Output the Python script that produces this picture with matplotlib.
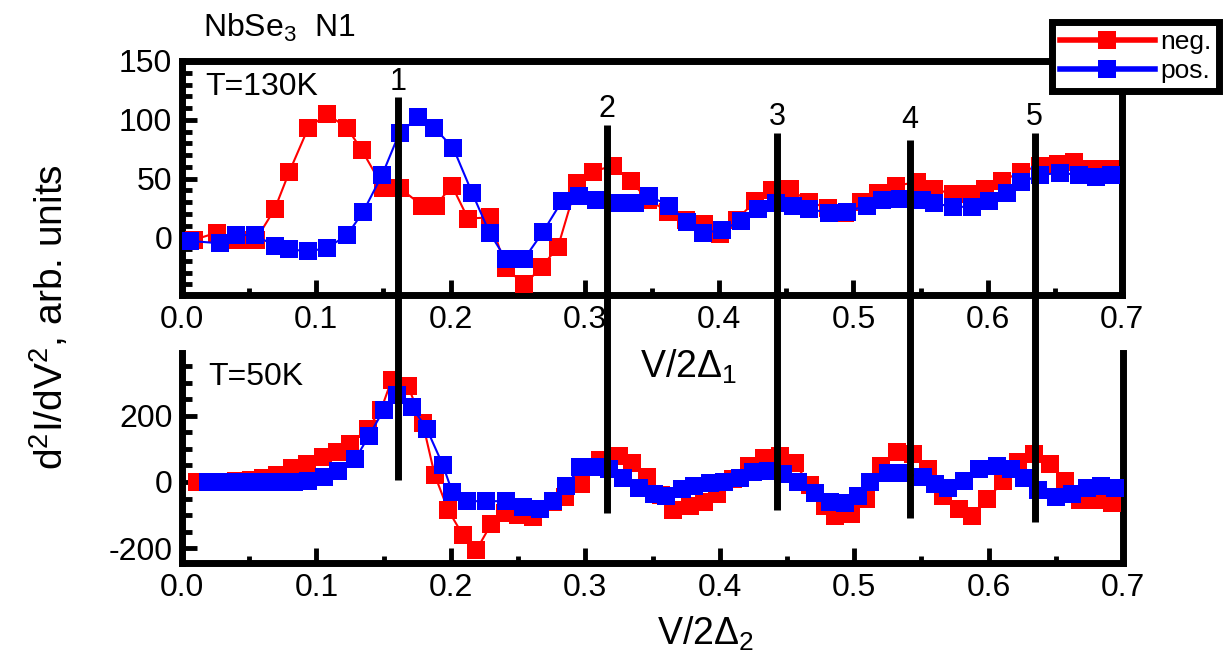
import matplotlib
matplotlib.use('Agg')
import matplotlib.pyplot as plt
from matplotlib.lines import Line2D
from matplotlib.transforms import blended_transform_factory
from matplotlib.ticker import MultipleLocator, FormatStrFormatter

plt.rcParams['font.family'] = ['Liberation Sans', 'DejaVu Sans']
plt.rcParams['mathtext.fontset'] = 'custom'
plt.rcParams['mathtext.rm'] = 'Liberation Sans'
plt.rcParams['mathtext.it'] = 'Liberation Sans'
plt.rcParams['mathtext.default'] = 'regular'
plt.rcParams['axes.unicode_minus'] = False

# ---------------- data ----------------
top_neg_x = [0.009, 0.026, 0.042, 0.055, 0.069, 0.080, 0.094, 0.108, 0.123, 0.134,
             0.150, 0.162, 0.179, 0.189, 0.201, 0.213, 0.229, 0.241, 0.255, 0.268,
             0.280, 0.294, 0.306, 0.321, 0.334, 0.347, 0.362, 0.375, 0.389, 0.401,
             0.413, 0.427, 0.439, 0.453, 0.467, 0.481, 0.494, 0.506, 0.518, 0.532,
             0.547, 0.560, 0.574, 0.587, 0.598, 0.611, 0.625, 0.639, 0.652, 0.664,
             0.678, 0.691]
top_neg_y = [-2, 4, -2, -2, 24, 56, 93, 105, 93, 74,
             42, 42, 27, 27, 44, 16, 17, -26, -40, -25,
             -8, 46, 56, 61, 48, 32, 22, 15, 11, 3,
             15, 31, 40, 41, 30, 25, 21, 30, 38, 44,
             47, 41, 37, 37, 41, 48, 56, 61, 62, 64,
             58, 58]

top_pos_x = [0.006, 0.028, 0.040, 0.054, 0.069, 0.080, 0.094, 0.108, 0.123, 0.135,
             0.149, 0.162, 0.176, 0.188, 0.202, 0.216, 0.229, 0.241, 0.255, 0.269,
             0.283, 0.296, 0.308, 0.324, 0.337, 0.348, 0.363, 0.376, 0.388, 0.402,
             0.416, 0.429, 0.442, 0.455, 0.467, 0.482, 0.495, 0.510, 0.521, 0.535,
             0.551, 0.560, 0.574, 0.588, 0.601, 0.614, 0.625, 0.639, 0.654, 0.668,
             0.681, 0.692]
top_pos_y = [-3, -5, 2, 2, -7, -10, -12, -9, 2, 22,
             53, 89, 102, 93, 76, 38, 4, -18, -18, 5,
             31, 35, 32, 29, 29, 35, 27, 13, 4, 6,
             14, 24, 29, 27, 24, 21, 22, 27, 32, 33,
             32, 29, 26, 26, 31, 38, 47, 53, 55, 53,
             51, 53]

bot_neg_x = [0.011, 0.027, 0.040, 0.051, 0.060, 0.071, 0.082, 0.093, 0.105, 0.115,
             0.125, 0.138, 0.148, 0.156, 0.168, 0.179, 0.188, 0.198, 0.209, 0.219,
             0.230, 0.240, 0.250, 0.261, 0.276, 0.285, 0.297, 0.311, 0.325, 0.335,
             0.346, 0.356, 0.365, 0.378, 0.388, 0.398, 0.410, 0.422, 0.433, 0.445,
             0.456, 0.467, 0.478, 0.486, 0.498, 0.509, 0.520, 0.532, 0.544, 0.555,
             0.566, 0.578, 0.588, 0.599, 0.611, 0.622, 0.634, 0.646, 0.657, 0.668,
             0.681, 0.692]
bot_neg_y = [0, 0, 3, 6, 12, 21, 42, 55, 76, 91,
             115, 161, 218, 309, 291, 179, 21, -85, -161, -206,
             -127, -94, -100, -106, -60, -45, -5, 67, 79, 58,
             15, -40, -85, -73, -62, -35, 10, 48, 72, 80,
             57, -10, -73, -103, -97, -52, 48, 91, 85, 39,
             -42, -82, -103, -52, 3, 61, 85, 55, 3, -55,
             -55, -64]

bot_pos_x = [0.019, 0.030, 0.041, 0.052, 0.063, 0.073, 0.083, 0.094, 0.106, 0.116,
             0.129, 0.139, 0.150, 0.160, 0.171, 0.182, 0.194, 0.201, 0.212, 0.226,
             0.241, 0.254, 0.266, 0.276, 0.286, 0.296, 0.309, 0.318, 0.328, 0.340,
             0.351, 0.360, 0.372, 0.381, 0.393, 0.403, 0.415, 0.425, 0.436, 0.447,
             0.458, 0.471, 0.482, 0.493, 0.503, 0.512, 0.525, 0.535, 0.551, 0.560,
             0.570, 0.582, 0.593, 0.606, 0.617, 0.626, 0.637, 0.650, 0.662, 0.673,
             0.684, 0.694]
bot_pos_y = [0, 0, 0, 0, 0, 0, 0, 4, 15, 33,
             70, 139, 218, 262, 227, 161, 52, -30, -58, -58,
             -58, -75, -82, -58, -12, 45, 45, 39, 12, -18,
             -36, -42, -22, -12, -2, 0, 12, 31, 32, 24,
             0, -33, -61, -64, -42, 0, 27, 27, 15, -6,
             -18, 3, 39, 48, 39, 12, -25, -45, -36, -18,
             -12, -18]

series_labels = ['neg.', 'pos.']
marker_lines_x = [0.161, 0.3165, 0.443, 0.542, 0.635]
marker_line_labels = ['1', '2', '3', '4', '5']

# ---------------- layout ----------------
W, H = 1223, 661
def fx(px):
    return px / W
def fy(py):
    return 1 - py / H

fig = plt.figure(figsize=(W / 100, H / 100), dpi=100)
fig.patch.set_facecolor('white')

ax1 = fig.add_axes([fx(182), fy(295), fx(940), 234 / H])
ax2 = fig.add_axes([fx(182), fy(563), fx(941), 210 / H])

RED = '#ff0000'
BLUE = '#0000ff'
ms = 13.5
FS = 23

for ax, nx, ny, px_, py_ in [(ax1, top_neg_x, top_neg_y, top_pos_x, top_pos_y),
                            (ax2, bot_neg_x, bot_neg_y, bot_pos_x, bot_pos_y)]:
    ax.plot(nx, ny, color=RED, marker='s', ms=ms, mew=0, lw=1.5, zorder=3)
    ax.plot(px_, py_, color=BLUE, marker='s', ms=ms, mew=0, lw=1.5, zorder=4)
    ax.set_xlim(0, 0.7)
    ax.xaxis.set_major_locator(MultipleLocator(0.1))
    ax.xaxis.set_minor_locator(MultipleLocator(0.05))
    ax.xaxis.set_major_formatter(FormatStrFormatter('%.1f'))
    for s in ax.spines.values():
        s.set_linewidth(5)
    ax.tick_params(which='both', direction='in', top=False, right=False,
                   width=3.5, labelsize=FS, pad=7)
    ax.tick_params(axis='x', which='major', length=11)
    ax.tick_params(axis='x', which='minor', length=5)
    ax.tick_params(axis='y', which='major', length=11)
    ax.tick_params(axis='y', which='minor', length=7)

ax1.set_ylim(-49, 150)
ax1.yaxis.set_major_locator(MultipleLocator(50))
ax1.yaxis.set_minor_locator(MultipleLocator(10))

ax2.set_ylim(-245, 390)
ax2.yaxis.set_major_locator(MultipleLocator(200))
ax2.yaxis.set_minor_locator(MultipleLocator(50))
ax2.spines['top'].set_visible(False)

# vertical marker lines spanning both panels
trans = blended_transform_factory(ax1.transData, fig.transFigure)
line_top_px = [97, 125, 133, 140, 133]
line_bot_px = [480, 513, 510, 518, 522]
label_base_px = [90, 117, 125, 128, 125]
for x, t, b, lb, lab in zip(marker_lines_x, line_top_px, line_bot_px,
                            label_base_px, marker_line_labels):
    fig.add_artist(Line2D([x, x], [fy(t), fy(b)], transform=trans, color='black',
                          lw=5, solid_capstyle='butt', zorder=10))
    fig.text(x, fy(lb), lab, transform=trans, ha='center', va='baseline',
             fontsize=FS - 1, zorder=10)

# texts
fig.text(fx(203), fy(37), 'NbSe$_3$  N1', ha='left', va='baseline', fontsize=FS)
fig.text(fx(205), fy(95), 'T=130K', ha='left', va='baseline', fontsize=FS)
fig.text(fx(208), fy(385), 'T=50K', ha='left', va='baseline', fontsize=FS)
fig.text(fx(640), fy(378), 'V/2Δ$_1$', ha='left', va='baseline', fontsize=27)
fig.text(fx(657), fy(645), 'V/2Δ$_2$', ha='left', va='baseline', fontsize=27)
fig.text(fx(50), fy(317), 'd$^2$I/dV$^2$, arb. units', rotation=90,
         ha='center', va='center', fontsize=28)

# legend
handles = [Line2D([], [], color=RED, marker='s', ms=ms, mew=0, lw=4),
           Line2D([], [], color=BLUE, marker='s', ms=ms, mew=0, lw=4)]
leg = fig.legend(handles, series_labels, loc='upper right',
                 bbox_to_anchor=(fx(1219), fy(22)), frameon=True, fancybox=False,
                 edgecolor='black', fontsize=19, handlelength=3.6,
                 handletextpad=0.2, borderpad=0.3, labelspacing=0.2,
                 borderaxespad=0, framealpha=1)
leg.get_frame().set_linewidth(5)
leg.set_zorder(20)

fig.savefig('out.png', dpi=100, facecolor='white')
